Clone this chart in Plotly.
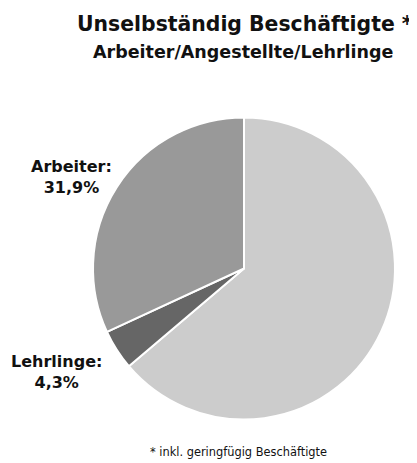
import plotly.graph_objects as go

categories = ["Angestellte", "Lehrlinge", "Arbeiter"]
values = [63.8, 4.3, 31.9]
colors = ["#cccccc", "#666666", "#999999"]
show_label = [False, True, True]

title = "Unselbständig Beschäftigte *"
subtitle = "Arbeiter/Angestellte/Lehrlinge"
footnote = "* inkl. geringfügig Beschäftigte"

FONT = "DejaVu Sans"
W, H = 417, 463
OFF = 8  # page body margin


def px(x):
    return (x - OFF) / W


def py(y):
    return 1 - (y - OFF) / H


fig = go.Figure(go.Pie(
    labels=categories,
    values=values,
    sort=False,
    direction="clockwise",
    rotation=0,
    marker=dict(colors=colors, line=dict(color="white", width=2)),
    textinfo="none",
    hoverinfo="label+percent",
    showlegend=False,
    domain=dict(x=[px(93), px(395)], y=[py(420), py(117)]),
))


def fmt(v):
    return f"{v:.1f}".replace(".", ",") + "%"


label_pos = {"Arbeiter": (72, 177), "Lehrlinge": (56, 372)}
annotations = []
for c, v, s in zip(categories, values, show_label):
    if not s:
        continue
    lx, ly = label_pos[c]
    annotations.append(dict(
        x=px(lx), y=py(ly), xref="paper", yref="paper",
        text=f"<b>{c}:<br>{fmt(v)}</b>", showarrow=False,
        xanchor="center", yanchor="middle", align="center",
        font=dict(family=FONT, size=16, color="#111111"),
    ))

annotations.append(dict(
    x=px(245), y=py(24), xref="paper", yref="paper",
    text=f"<b>{title}</b>", showarrow=False, xanchor="center", yanchor="middle",
    font=dict(family=FONT, size=20.4, color="#111111"),
))
annotations.append(dict(
    x=px(243), y=py(52), xref="paper", yref="paper",
    text=f"<b>{subtitle}</b>", showarrow=False, xanchor="center", yanchor="middle",
    font=dict(family=FONT, size=17.5, color="#111111"),
))
annotations.append(dict(
    x=px(238), y=py(452), xref="paper", yref="paper",
    text=footnote, showarrow=False, xanchor="center", yanchor="middle",
    font=dict(family=FONT, size=11.4, color="#111111"),
))

fig.update_layout(
    width=W, height=H,
    margin=dict(l=0, r=0, t=0, b=0),
    paper_bgcolor="white", plot_bgcolor="white",
    annotations=annotations,
)

fig.write_html("out.html")
